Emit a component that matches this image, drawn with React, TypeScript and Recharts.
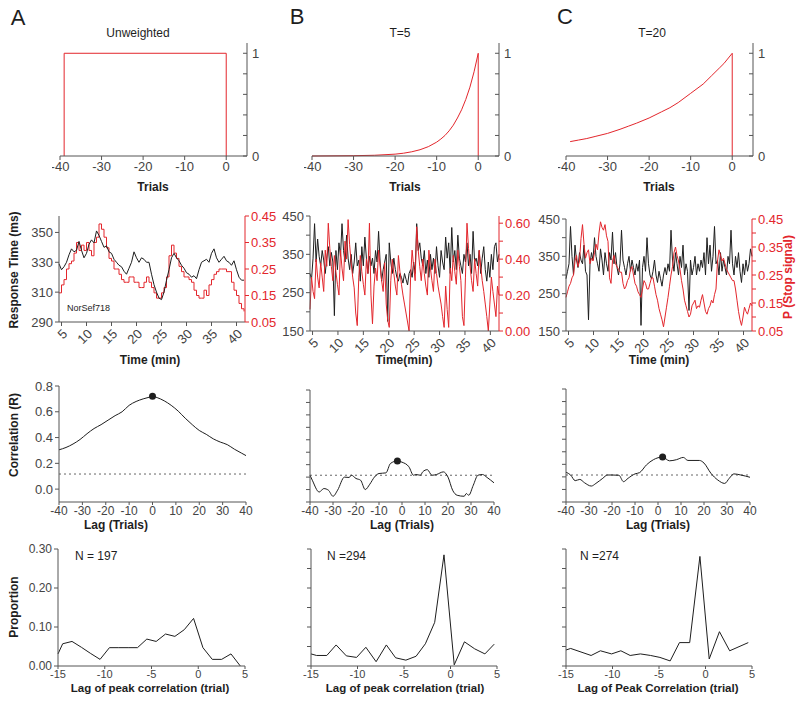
import React from "react";
import { LineChart, Line, XAxis, YAxis, ReferenceLine, ReferenceDot } from "recharts";

const RED = "#e3262c";
const INK = "#1e1e1e";
const AXIS = "#555";
const FONT = '"Liberation Sans", Arial, Helvetica, sans-serif';
const YW = 40; // band reserved for a y axis
const XH = 40; // band reserved for the x axis
const PAD = 8;
const TICK = { fontSize: 13, fill: "#444" };
const TICK_SM = { fontSize: 12, fill: "#444" };
const TICK_XS = { fontSize: 11, fill: "#444" };

// ---- row 1: trial weighting functions (lag in trials, weight)
const unweightedLag = [-39, -39, 0, 0];
const unweightedW = [0, 1, 1, 0];
const tau5Lag = [-40, -30, -25, -20, -18, -16, -14, -12, -10, -9, -8, -7, -6, -5, -4, -3, -2, -1, 0, 0];
const tau5W = [0, 0.003, 0.007, 0.018, 0.027, 0.041, 0.061, 0.091, 0.135, 0.165, 0.2, 0.245, 0.3, 0.37, 0.45, 0.55, 0.67, 0.82, 1, 0];
const tau20Lag = [-39, -37, -35, -33, -30, -27, -25, -23, -20, -17, -15, -13, -10, -7, -5, -3, -2, 0, 0];
const tau20W = [0.14, 0.155, 0.17, 0.19, 0.22, 0.26, 0.29, 0.32, 0.37, 0.43, 0.47, 0.52, 0.61, 0.7, 0.78, 0.86, 0.9, 1, 0];
const weightTicks = [0, 0.2, 0.4, 0.6, 0.8, 1];

// ---- row 2: response time (ms) and P(stop signal) over session time (min)
const timeTicks = [5, 10, 15, 20, 25, 30, 35, 40];
const seriesStartA = 4.5;
const seriesStepA = 0.5;
const rtA = [
  329, 325, 327, 330, 335, 339, 337, 338, 344, 338,
  333, 336, 342, 345, 343, 351, 348, 344, 340, 341,
  337, 336, 332, 330, 328, 327, 324, 322, 326, 330,
  337, 333, 330, 333, 332, 330, 330, 322, 315, 310,
  306, 305, 310, 318, 325, 333, 336, 333, 331, 328,
  326, 323, 322, 320, 321, 319, 325, 330, 331, 332,
  330, 336, 339, 333, 330, 332, 334, 331, 330, 328,
  331, 325, 320, 318, 318,
];
const pStopA = [
  0.16, 0.19, 0.21, 0.25, 0.27, 0.28, 0.31, 0.35, 0.32, 0.34,
  0.32, 0.35, 0.32, 0.3, 0.35, 0.37, 0.42, 0.4, 0.37, 0.33,
  0.29, 0.28, 0.25, 0.25, 0.23, 0.21, 0.2, 0.2, 0.22, 0.22,
  0.2, 0.2, 0.18, 0.18, 0.2, 0.22, 0.2, 0.18, 0.16, 0.14,
  0.14, 0.16, 0.18, 0.22, 0.3, 0.34, 0.31, 0.29, 0.26, 0.24,
  0.22, 0.22, 0.21, 0.2, 0.17, 0.15, 0.14, 0.14, 0.17, 0.15,
  0.19, 0.21, 0.23, 0.24, 0.25, 0.25, 0.25, 0.24, 0.24, 0.2,
  0.17, 0.15, 0.12, 0.1, 0.09,
];
const seriesStartBC = 4.5;
const seriesStepBC = 0.3;
const rtB = [
  300, 285, 340, 430, 330, 390, 345, 320, 360, 335,
  300, 340, 370, 320, 355, 330, 190, 360, 310, 380,
  345, 430, 360, 330, 400, 340, 310, 350, 300, 330,
  380, 320, 335, 280, 370, 320, 395, 340, 300, 345,
  320, 340, 300, 360, 330, 410, 330, 280, 310, 330,
  350, 175, 380, 330, 300, 340, 310, 290, 280, 300,
  290, 275, 300, 285, 270, 300, 310, 290, 330, 300,
  430, 360, 380, 340, 320, 360, 300, 335, 290, 350,
  310, 340, 300, 370, 320, 290, 360, 330, 310, 395,
  340, 380, 300, 420, 330, 360, 310, 400, 340, 320,
  300, 350, 330, 380, 320, 350, 300, 410, 330, 340,
  320, 360, 300, 340, 370, 310, 280, 330, 290, 350,
  310, 370, 380, 330, 350,
];
const pStopB = [
  0.12, 0.3, 0.22, 0.18, 0.4, 0.3, 0.24, 0.38, 0.3, 0.22,
  0.45, 0.36, 0.6, 0.46, 0.36, 0.28, 0.42, 0.33, 0.26, 0.2,
  0.45, 0.35, 0.28, 0.5, 0.4, 0.62, 0.48, 0.38, 0.3, 0.24,
  0.1, 0.03, 0.3, 0.42, 0.33, 0.26, 0.2, 0.4, 0.32, 0.6,
  0.2, 0.04, 0.25, 0.35, 0.28, 0.45, 0.36, 0.28, 0.22, 0.38,
  0.15, 0.06, 0.02, 0.28, 0.4, 0.32, 0.25, 0.2, 0.42, 0.33,
  0.26, 0.2, 0.15, 0.1, 0.05, 0.0, 0.3, 0.45, 0.36, 0.28,
  0.58, 0.45, 0.36, 0.28, 0.4, 0.32, 0.25, 0.2, 0.45, 0.35,
  0.28, 0.22, 0.4, 0.32, 0.25, 0.2, 0.15, 0.08, 0.02, 0.25,
  0.12, 0.02, 0.35, 0.28, 0.42, 0.33, 0.26, 0.45, 0.36, 0.28,
  0.08, 0.03, 0.3, 0.6, 0.46, 0.36, 0.28, 0.22, 0.4, 0.32,
  0.25, 0.45, 0.36, 0.28, 0.22, 0.15, 0.08, 0.0, 0.15, 0.3,
  0.22, 0.15, 0.08, 0.25, 0.2,
];
const rtC = [
  290, 310, 330, 430, 350, 300, 380, 340, 320, 360,
  340, 330, 380, 310, 300, 180, 330, 360, 340, 400,
  350, 330, 310, 370, 340, 300, 360, 330, 310, 360,
  340, 415, 330, 360, 320, 300, 330, 420, 340, 320,
  300, 330, 350, 310, 340, 320, 300, 330, 310, 340,
  165, 320, 350, 310, 400, 330, 300, 290, 310, 340,
  300, 280, 310, 290, 270, 300, 320, 300, 330, 310,
  420, 340, 310, 360, 330, 300, 350, 320, 380, 300,
  330, 310, 205, 340, 300, 320, 350, 300, 330, 310,
  340, 320, 360, 300, 400, 330, 380, 310, 350, 430,
  330, 340, 300, 360, 310, 340, 320, 300, 350, 330,
  420, 330, 300, 350, 320, 360, 310, 280, 330, 300,
  340, 310, 330, 370, 350,
];
const pStopC = [
  0.17, 0.19, 0.21, 0.22, 0.24, 0.25, 0.3, 0.32, 0.28, 0.3,
  0.38, 0.43, 0.36, 0.31, 0.33, 0.34, 0.29, 0.31, 0.3, 0.33,
  0.36, 0.34, 0.4, 0.44, 0.42, 0.41, 0.43, 0.39, 0.37, 0.24,
  0.22, 0.3, 0.32, 0.29, 0.28, 0.27, 0.26, 0.26, 0.22, 0.2,
  0.21, 0.23, 0.24, 0.27, 0.28, 0.25, 0.22, 0.21, 0.19, 0.18,
  0.17, 0.2, 0.23, 0.22, 0.2, 0.2, 0.22, 0.24, 0.24, 0.21,
  0.18, 0.16, 0.13, 0.11, 0.09, 0.065, 0.1, 0.135, 0.17, 0.21,
  0.25, 0.28, 0.33, 0.35, 0.32, 0.3, 0.27, 0.23, 0.2, 0.16,
  0.14, 0.12, 0.1, 0.11, 0.14, 0.15, 0.16, 0.13, 0.14, 0.135,
  0.16, 0.18, 0.15, 0.12, 0.11, 0.13, 0.14, 0.16, 0.15, 0.18,
  0.2, 0.3, 0.34, 0.32, 0.3, 0.31, 0.29, 0.27, 0.26, 0.25,
  0.24, 0.23, 0.23, 0.2, 0.16, 0.12, 0.09, 0.07, 0.1, 0.135,
  0.12, 0.11, 0.13, 0.15, 0.14,
];

// ---- row 3: cross-correlation vs lag (trials)
const lagTicks = [-40, -30, -20, -10, 0, 10, 20, 30, 40];
const corrALag = [-40, -37, -34, -31, -28, -25, -22, -19, -16, -13, -10, -7, -4, -1, 0, 2, 5, 8, 11, 14, 17, 20, 23, 26, 29, 32, 35, 38, 40];
const corrAR = [0.305, 0.323, 0.35, 0.385, 0.43, 0.47, 0.5, 0.535, 0.57, 0.6, 0.65, 0.68, 0.7, 0.715, 0.72, 0.71, 0.685, 0.65, 0.605, 0.55, 0.5, 0.455, 0.425, 0.39, 0.365, 0.345, 0.31, 0.28, 0.26];
const corrBLag = [-40, -39, -36, -34, -32, -30, -28, -25, -23, -22, -20, -18, -16, -14, -12, -10, -7, -5, -2, 0, 3, 5, 6, 8, 9, 11, 13, 15, 18, 20, 22, 24, 27, 28, 29, 31, 33, 35, 37, 40];
const corrBR = [0.115, 0.075, -0.02, 0.008, -0.005, -0.054, -0.005, 0.1, 0.097, 0.115, 0.089, 0.075, 0.0, 0.043, 0.1, 0.129, 0.134, 0.21, 0.23, 0.22, 0.183, 0.115, 0.121, 0.115, 0.142, 0.16, 0.115, 0.121, 0.142, 0.1, -0.005, -0.046, -0.054, -0.032, -0.046, 0.035, 0.115, 0.121, 0.097, 0.054];
const corrCLag = [-40, -38, -36, -34, -32, -29, -27, -24, -22, -20, -17, -15, -13, -10, -8, -5, -2, 2, 5, 8, 11, 13, 18, 20, 23, 26, 29, 31, 33, 36, 40];
const corrCR = [0.137, 0.115, 0.07, 0.08, 0.054, 0.027, 0.048, 0.089, 0.115, 0.115, 0.113, 0.062, 0.089, 0.124, 0.134, 0.196, 0.237, 0.258, 0.228, 0.237, 0.255, 0.231, 0.231, 0.21, 0.129, 0.075, 0.048, 0.089, 0.124, 0.115, 0.097];
const peakA = { lag: 0, r: 0.72 };
const peakB = { lag: -2, r: 0.23 };
const peakC = { lag: 2, r: 0.258 };
const sigA = 0.117;
const sigB = 0.115;
const sigC = 0.115;

// ---- row 4: distribution of peak-correlation lag
const peakLagTicks = [-15, -10, -5, 0, 5];
const histALag = [-15, -14.5, -13.5, -12.5, -11.5, -10.5, -9.5, -8.5, -7.5, -6.5, -5.5, -4.5, -3.5, -2.5, -1.5, -0.5, 0.5, 1.5, 2.5, 3.5, 4.5];
const histAP = [0.031, 0.057, 0.063, 0.048, 0.032, 0.017, 0.047, 0.047, 0.047, 0.047, 0.069, 0.063, 0.082, 0.076, 0.093, 0.122, 0.047, 0.017, 0.017, 0.031, 0];
const histBLag = [-15, -14.4, -13.3, -12.3, -11.2, -10.1, -9.1, -8.0, -6.9, -5.9, -4.8, -3.7, -2.7, -1.7, -0.7, 0.4, 1.5, 2.6, 3.7, 4.7];
const histBP = [0.031, 0.027, 0.027, 0.054, 0.026, 0.022, 0.048, 0.011, 0.054, 0.021, 0.015, 0.025, 0.057, 0.112, 0.285, 0.003, 0.062, 0.044, 0.031, 0.056];
const histCLag = [-15, -14.5, -12.3, -11.3, -10.1, -9.1, -8.1, -7.0, -5.9, -4.9, -3.8, -2.8, -1.7, -0.6, 0.4, 1.5, 2.6, 4.6];
const histCP = [0.041, 0.045, 0.027, 0.039, 0.031, 0.039, 0.027, 0.031, 0.027, 0.022, 0.013, 0.06, 0.06, 0.281, 0.018, 0.088, 0.039, 0.06];

const xy = (xs: number[], ys: number[]) => xs.map((x, i) => ({ x, y: ys[i] }));
const timed = (start: number, step: number, ys: number[]) => ys.map((y, i) => ({ x: start + i * step, y }));
const only = (keep: number[], digits: number) => (v: number) =>
  keep.some((k) => Math.abs(k - v) < 1e-6) ? v.toFixed(digits) : "";

type Rect = [number, number, number, number]; // plot left, top, right, bottom

function Plot({ rect, left, right, children }: { rect: Rect; left?: boolean; right?: boolean; children: React.ReactNode }) {
  const [x0, y0, x1, y1] = rect;
  const lw = left ? YW : 0;
  const rw = right ? YW : 0;
  return (
    <div style={{ position: "absolute", left: x0 - lw - PAD, top: y0 - PAD }}>
      <LineChart
        width={x1 - x0 + lw + rw + 2 * PAD}
        height={y1 - y0 + XH + 2 * PAD}
        margin={{ top: PAD, right: PAD, bottom: PAD, left: PAD }}
      >
        {children}
      </LineChart>
    </div>
  );
}

function Label({ x, y, text, size = 12, bold = true, color = INK, rotate = false, start = false }: {
  x: number; y: number; text: string; size?: number; bold?: boolean; color?: string; rotate?: boolean; start?: boolean;
}) {
  return (
    <div
      style={{
        position: "absolute", left: x, top: y, whiteSpace: "nowrap", fontSize: size, lineHeight: 1,
        fontWeight: bold ? "bold" : "normal", color,
        transform: `translate(${start ? "0" : "-50%"}, -50%)${rotate ? " rotate(-90deg)" : ""}`,
      }}
    >
      {text}
    </div>
  );
}

const lineProps = { dataKey: "y", dot: false, isAnimationActive: false, strokeWidth: 1 };

function weightPanel(rect: Rect, lags: number[], w: number[]) {
  return (
    <Plot rect={rect} right>
      <XAxis type="number" dataKey="x" domain={[-40, 5]} ticks={[-40, -30, -20, -10, 0]} interval={0}
        height={XH} stroke={AXIS} tick={TICK} tickSize={4} />
      <YAxis orientation="right" type="number" domain={[0, 1.1]} ticks={weightTicks} interval={0} width={YW}
        stroke={AXIS} tick={TICK} tickSize={-4} tickMargin={9} tickFormatter={only([0, 1], 0)} />
      <Line {...lineProps} data={xy(lags, w)} type="linear" stroke={RED} />
    </Plot>
  );
}

function timeXAxis() {
  return (
    <XAxis type="number" dataKey="x" domain={[4.5, 41.7]} ticks={timeTicks} interval={0} height={XH}
      stroke={AXIS} tickSize={4} tick={{ ...TICK, angle: -45, textAnchor: "end" }} />
  );
}

function corrPanel(rect: Rect, lags: number[], r: number[], peak: { lag: number; r: number }, sig: number, labels: boolean) {
  return (
    <Plot rect={rect} left>
      <XAxis type="number" dataKey="x" domain={[-40, 40]} ticks={lagTicks} interval={0} height={XH}
        stroke={AXIS} tick={TICK_SM} tickSize={3} tickMargin={1} />
      <YAxis type="number" domain={[-0.1, 0.8]} width={YW} stroke={AXIS} tick={TICK} tickSize={4} interval={0}
        ticks={labels ? [0, 0.2, 0.4, 0.6, 0.8] : [-0.1, 0, 0.1, 0.2, 0.3, 0.4, 0.5, 0.6, 0.7, 0.8]}
        tickFormatter={labels ? only([0, 0.2, 0.4, 0.6, 0.8], 1) : () => ""} />
      <ReferenceLine y={sig} stroke="#666" strokeDasharray="2 3" />
      <Line {...lineProps} data={xy(lags, r)} type="monotone" stroke={INK} />
      <ReferenceDot x={peak.lag} y={peak.r} r={3.5} fill={INK} stroke="none" />
    </Plot>
  );
}

function histPanel(rect: Rect, lags: number[], p: number[], labels: boolean) {
  return (
    <Plot rect={rect} left>
      <XAxis type="number" dataKey="x" domain={[-15, 5]} ticks={peakLagTicks} interval={0} height={XH}
        stroke={AXIS} tick={TICK_XS} tickSize={3} tickMargin={1} />
      <YAxis type="number" domain={[0, 0.3]} width={YW} stroke={AXIS} tick={TICK_SM} tickSize={4} interval={0}
        ticks={labels ? [0, 0.1, 0.2, 0.3] : [0, 0.05, 0.1, 0.15, 0.2, 0.25, 0.3]}
        tickFormatter={labels ? only([0, 0.1, 0.2, 0.3], 2) : () => ""} />
      <Line {...lineProps} data={xy(lags, p)} type="linear" stroke={INK} />
    </Plot>
  );
}

export default function App() {
  return (
    <div style={{ position: "absolute", left: 0, top: 0, width: 800, height: 706, background: "#fff", fontFamily: FONT, color: INK }}>
      {/* row 1 */}
      {weightPanel([60, 43, 247, 156], unweightedLag, unweightedW)}
      {weightPanel([312, 43, 499, 156], tau5Lag, tau5W)}
      {weightPanel([566, 43, 753, 156], tau20Lag, tau20W)}

      {/* row 2 */}
      <Plot rect={[59, 216, 245, 322]} left right>
        {timeXAxis()}
        <YAxis yAxisId="rt" type="number" domain={[290, 361]} ticks={[290, 310, 330, 350]} interval={0}
          width={YW} stroke={AXIS} tick={TICK} tickSize={4} />
        <YAxis yAxisId="p" orientation="right" type="number" domain={[0.05, 0.45]} ticks={[0.05, 0.15, 0.25, 0.35, 0.45]}
          interval={0} width={YW} stroke={RED} tick={{ ...TICK, fill: RED }} tickSize={4} tickFormatter={(v: number) => v.toFixed(2)} />
        <Line {...lineProps} yAxisId="p" data={timed(seriesStartA, seriesStepA, pStopA)} type="stepAfter" stroke={RED} />
        <Line {...lineProps} yAxisId="rt" data={timed(seriesStartA, seriesStepA, rtA)} type="linear" stroke={INK} />
      </Plot>
      <Plot rect={[310, 216, 499, 331]} left right>
        {timeXAxis()}
        <YAxis yAxisId="rt" type="number" domain={[150, 450]} ticks={[150, 200, 250, 300, 350, 400, 450]} interval={0}
          width={YW} stroke={AXIS} tick={TICK} tickSize={4} tickFormatter={only([150, 250, 350, 450], 0)} />
        <YAxis yAxisId="p" orientation="right" type="number" domain={[0, 0.64]} ticks={[0, 0.1, 0.2, 0.3, 0.4, 0.5, 0.6]}
          interval={0} width={YW} stroke={RED} tick={{ ...TICK, fill: RED }} tickSize={4} tickFormatter={only([0, 0.2, 0.4, 0.6], 2)} />
        <Line {...lineProps} yAxisId="rt" data={timed(seriesStartBC, seriesStepBC, rtB)} type="linear" stroke={INK} />
        <Line {...lineProps} yAxisId="p" data={timed(seriesStartBC, seriesStepBC, pStopB)} type="linear" stroke={RED} />
      </Plot>
      <Plot rect={[566, 219, 752, 331]} left right>
        {timeXAxis()}
        <YAxis yAxisId="rt" type="number" domain={[150, 450]} ticks={[150, 200, 250, 300, 350, 400, 450]} interval={0}
          width={YW} stroke={AXIS} tick={TICK} tickSize={4} tickFormatter={only([150, 250, 350, 450], 0)} />
        <YAxis yAxisId="p" orientation="right" type="number" domain={[0.05, 0.45]} ticks={[0.05, 0.1, 0.15, 0.2, 0.25, 0.3, 0.35, 0.4, 0.45]}
          interval={0} width={YW} stroke={RED} tick={{ ...TICK, fill: RED }} tickSize={4} tickFormatter={only([0.05, 0.15, 0.25, 0.35, 0.45], 2)} />
        <Line {...lineProps} yAxisId="rt" data={timed(seriesStartBC, seriesStepBC, rtC)} type="linear" stroke={INK} />
        <Line {...lineProps} yAxisId="p" data={timed(seriesStartBC, seriesStepBC, pStopC)} type="linear" stroke={RED} />
      </Plot>

      {/* row 3 */}
      {corrPanel([59, 386, 246, 502], corrALag, corrAR, peakA, sigA, true)}
      {corrPanel([310, 390, 494, 502], corrBLag, corrBR, peakB, sigB, false)}
      {corrPanel([566, 389, 750, 502], corrCLag, corrCR, peakC, sigC, false)}

      {/* row 4 */}
      {histPanel([58, 549, 245, 666], histALag, histAP, true)}
      {histPanel([311, 549, 497, 666], histBLag, histBP, false)}
      {histPanel([566, 549, 752, 666], histCLag, histCP, false)}

      {/* panel letters and titles */}
      <Label x={18} y={18} text="A" size={22} bold={false} />
      <Label x={297} y={17} text="B" size={22} bold={false} />
      <Label x={565} y={17} text="C" size={22} bold={false} />
      <Label x={138} y={33} text="Unweighted" bold={false} />
      <Label x={400} y={33} text="T=5" bold={false} />
      <Label x={652} y={33} text="T=20" bold={false} />

      <Label x={153} y={187} text="Trials" />
      <Label x={405} y={187} text="Trials" />
      <Label x={659} y={187} text="Trials" />

      <Label x={150} y={360} text="Time (min)" />
      <Label x={404} y={360} text="Time(min)" />
      <Label x={659} y={360} text="Time (min)" />
      <Label x={67} y={308} text="NorSef718" size={9} bold={false} start />
      <Label x={14} y={270} text="Response Time (ms)" rotate />
      <Label x={788} y={277} text="P (Stop signal)" rotate color={RED} />

      <Label x={14} y={435} text="Correlation (R)" rotate />
      <Label x={116} y={525} text="Lag (Trials)" />
      <Label x={402} y={525} text="Lag (Trials)" />
      <Label x={658} y={525} text="Lag (Trials)" />

      <Label x={14} y={607} text="Proportion" rotate />
      <Label x={75} y={556} text="N = 197" bold={false} start />
      <Label x={327} y={556} text="N =294" bold={false} start />
      <Label x={580} y={556} text="N =274" bold={false} start />
      <Label x={150} y={689} text="Lag of peak correlation (trial)" size={11.5} />
      <Label x={405} y={689} text="Lag of peak correlation (trial)" size={11.5} />
      <Label x={658} y={689} text="Lag of Peak Correlation (trial)" size={11.5} />
    </div>
  );
}
